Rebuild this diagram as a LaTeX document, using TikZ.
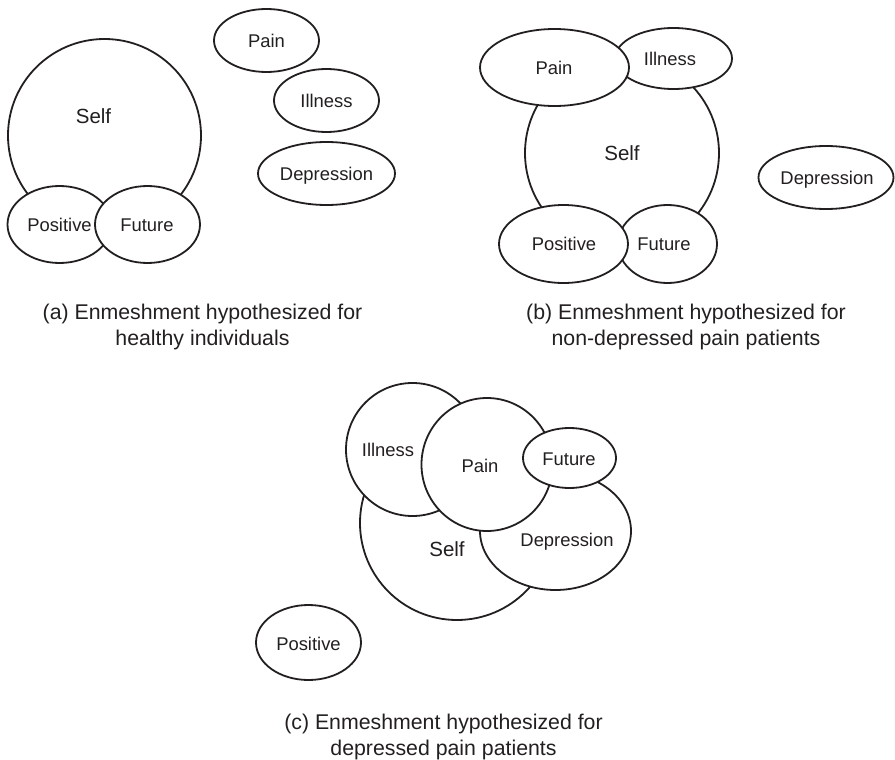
\documentclass[tikz,border=0pt]{standalone}
\usepackage{fontspec}
\setmainfont{Liberation Sans}
\usetikzlibrary{shapes.geometric}
\definecolor{ink}{RGB}{35,31,32}
\begin{document}
\begin{tikzpicture}[x=1pt,y=-1pt,
  region/.style 2 args={ellipse, draw=ink, fill=white, line width=1.8pt,
    inner sep=0pt, outer sep=0pt, minimum width=#1pt, minimum height=#2pt},
  lbl/.style={text=ink, font=\fontsize{18.4}{22}\selectfont, inner sep=0pt,
    text height=13.2pt, text depth=0pt},
  selflbl/.style={lbl, font=\fontsize{20.5}{24}\selectfont, text height=14.7pt},
  caption/.style={text=ink, font=\fontsize{21.3}{25.5}\selectfont, align=center,
    inner sep=0pt}]
\useasboundingbox (0,0) rectangle (895,760);

% (a) healthy individuals
\node[region={193}{193}] (aSelf) at (104.5,135.5) {};
\node[region={104}{77}]  (aPos)  at (59.5,224.5) {};
\node[region={105}{77}]  (aFut)  at (147.5,224.5) {};
\node[region={105}{63}]  (aPain) at (266.5,40.5) {};
\node[region={105}{63}]  (aIll)  at (326.5,100.5) {};
\node[region={137}{63}]  (aDep)  at (326.5,173.5) {};
\node[selflbl] (aSelfL) at (93.5,116) {Self};
\node[lbl] (aPosL)  at (59.5,225) {Positive};
\node[lbl] (aFutL)  at (147,225) {Future};
\node[lbl] (aPainL) at (266.5,40.5) {Pain};
\node[lbl] (aIllL)  at (326.5,100.5) {Illness};
\node[lbl] (aDepL)  at (326.5,173.5) {Depression};
\node[caption] (aCap) at (202.5,327) {(a) Enmeshment hypothesized for\\healthy individuals};

% (b) non-depressed pain patients
\node[region={194}{194}] (bSelf) at (622,153) {};
\node[region={117}{61}]  (bIll)  at (673.5,58.5) {};
\node[region={149}{77}]  (bPain) at (554.5,67.5) {};
\node[region={99}{78}]   (bFut)  at (667.5,244) {};
\node[region={129}{78}]  (bPos)  at (563.5,244) {};
\node[region={135}{63}]  (bDep)  at (826,177.5) {};
\node[selflbl] (bSelfL) at (622,153.5) {Self};
\node[lbl] (bIllL)  at (670,59) {Illness};
\node[lbl] (bPainL) at (554,67.5) {Pain};
\node[lbl] (bFutL)  at (664,244) {Future};
\node[lbl] (bPosL)  at (564,244) {Positive};
\node[lbl] (bDepL)  at (827,178) {Depression};
\node[caption] (bCap) at (686,327) {(b) Enmeshment hypothesized for\\non-depressed pain patients};

% (c) depressed pain patients
\node[region={194}{194}] (cSelf) at (457,523) {};
\node[region={151}{118}] (cDep)  at (555.5,531) {};
\node[region={133}{133}] (cIll)  at (412.5,449.5) {};
\node[region={131}{133}] (cPain) at (487,464.5) {};
\node[region={93}{60}]   (cFut)  at (569.5,458) {};
\node[region={105}{75}]  (cPos)  at (308.5,642.5) {};
\node[selflbl] (cSelfL) at (447,549.5) {Self};
\node[lbl] (cDepL)  at (567,539.5) {Depression};
\node[lbl] (cIllL)  at (388,450) {Illness};
\node[lbl] (cPainL) at (480,466) {Pain};
\node[lbl] (cFutL)  at (569,459) {Future};
\node[lbl] (cPosL)  at (308.5,644) {Positive};
\node[caption] (cCap) at (443.5,737) {(c) Enmeshment hypothesized for\\depressed pain patients};
\end{tikzpicture}
\end{document}
